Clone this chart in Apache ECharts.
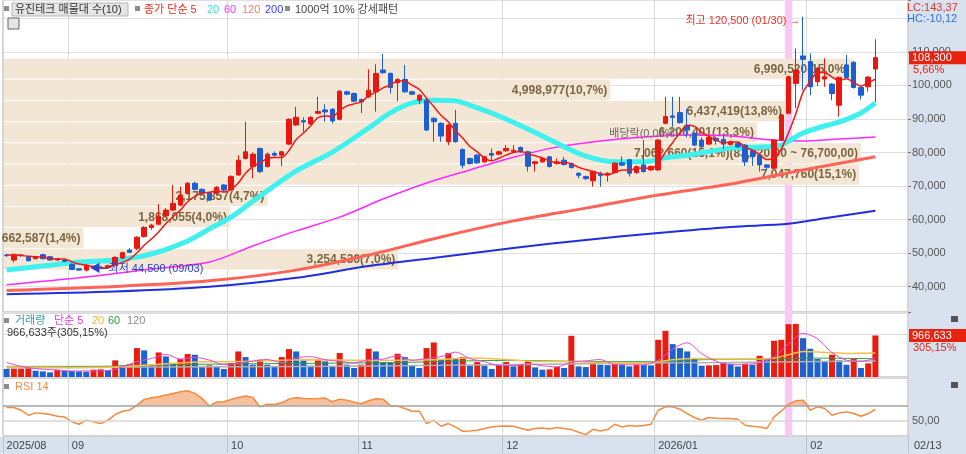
<!DOCTYPE html>
<html><head><meta charset="utf-8">
<script src="https://cdn.jsdelivr.net/npm/echarts/dist/echarts.min.js"></script>
<style>html,body{margin:0;padding:0;background:#fff}#c{width:966px;height:454px}</style>
</head><body><div id="c"></div>
<script>
// ---------- DATA ----------
const dates = ['08/19','08/20','08/21','08/22','08/25','08/26','08/27','08/28','08/29',
'09/01','09/02','09/03','09/04','09/05','09/08','09/09','09/10','09/11','09/12','09/15','09/16','09/17','09/18','09/19','09/22','09/23','09/24','09/25','09/26','09/29','09/30',
'10/01','10/02','10/10','10/13','10/14','10/15','10/16','10/17','10/20','10/21','10/22','10/23','10/24','10/27','10/28','10/29','10/30','10/31',
'11/03','11/04','11/05','11/06','11/07','11/10','11/11','11/12','11/13','11/14','11/17','11/18','11/19','11/20','11/21','11/24','11/25','11/26','11/27','11/28',
'12/01','12/02','12/03','12/04','12/05','12/08','12/09','12/10','12/11','12/12','12/15','12/16','12/17','12/18','12/19','12/22','12/23','12/24','12/26','12/29','12/30',
'01/02','01/05','01/06','01/07','01/08','01/09','01/12','01/13','01/14','01/15','01/16','01/19','01/20','01/21','01/22','01/23','01/26','01/27','01/28','01/29','01/30',
'02/02','02/03','02/04','02/05','02/06','02/09','02/10','02/11','02/12','02/13'];
const tickIdx = [0, 9, 31, 49, 69, 90, 111];
const tickText = ['2025/08', '09', '10', '11', '12', '2026/01', '02'];
const lastDateText = '02/13';

const open = [49400,47900,49400,48900,48300,49500,48900,47900,47900,46600,
45300,44900,45800,45800,45700,46300,48500,50900,51400,54900,
57600,58600,61100,62800,64300,67800,70800,69000,67800,67800,
70300,68800,73300,78200,75800,81200,75800,79700,79200,82500,
88200,89500,88500,91700,92700,92900,89900,98100,97600,95800,
96600,98100,104600,103600,100800,101800,98100,95600,95600,90200,
88700,83200,88700,80900,78200,79200,77200,79700,79500,80500,
80200,81500,80200,76700,77200,78700,76700,77700,76700,73800,
72800,71600,73600,73300,74000,76900,77800,74000,76300,74800,
74800,88700,90900,91900,88000,85700,83700,82500,84200,83900,
82400,82700,82200,80500,79200,76300,75300,83700,91700,100600,
108800,107100,101100,101900,100400,94100,106100,106900,99400,99600,
104900];
const close = [49200,49600,49200,47700,48900,48300,47900,48300,47500,45100,
44900,46300,45600,45600,46200,48700,50100,50200,54700,57600,
58300,60800,62800,64800,67300,70800,69000,67800,65800,69600,
68800,72800,77700,80200,79500,74300,79500,79200,80200,89900,
90500,89100,90500,92200,92100,89400,98300,97400,95300,95100,
98600,103600,103800,99400,101800,98100,97400,97100,86700,89200,
84900,88200,83200,76200,76700,76900,78700,79200,80200,81200,
80700,80200,75900,77200,78200,75800,77200,76400,75500,73200,
72200,74300,73100,73800,76800,76200,73800,75800,74300,75800,
83700,90700,90500,88900,86700,82200,81700,84500,83500,82500,
83200,81700,77200,78700,76300,75600,83700,91200,102600,104600,
107800,99600,105100,102600,97600,102400,102400,99400,97100,102500,
108300];
const low = [48900,47200,48900,47500,48100,48100,47700,47700,47300,44900,
44700,44500,45200,45300,45500,46100,48300,50000,50900,54600,
56900,58300,60800,62500,64000,67500,68700,67500,65500,67500,
68500,68500,73000,77900,72300,73800,75500,78800,75900,82200,
87900,86200,88200,91400,89200,88700,89600,97100,95000,91700,
96300,92200,103500,97600,95300,97800,97100,94400,86400,83200,
83200,82200,82900,75200,76400,76600,76900,77800,79200,80200,
79900,79900,74300,74300,76900,75500,76400,76100,75200,72300,
71800,69800,69800,71300,73700,75900,72800,73700,74000,74500,
74500,88400,87700,88600,84500,81900,81200,82200,82300,81000,
82000,81400,76000,76000,74300,74800,75000,83400,91400,93200,
98600,97100,99800,99600,95600,90700,102100,99100,95800,98200,
95100];
const high = [49800,49800,49700,49200,49100,49800,49100,48500,48100,46900,
45500,46500,46300,46200,46500,49000,50400,51400,55000,58000,
58700,64600,63400,70300,69800,71200,71300,69300,68100,70000,
70600,73200,79200,89200,80000,81500,80000,80300,80500,90200,
93600,90500,90800,96600,94400,93200,98600,98500,97900,96100,
104800,106300,109400,103900,102100,106100,98400,97400,96000,90500,
89000,88500,92700,81200,78500,79500,79000,81200,80500,82200,
82200,81800,80500,77500,78500,79000,78200,78700,77000,74100,
73100,74600,74300,74100,77100,78800,78100,76100,83700,76100,
84000,96600,96600,96600,93000,86000,84500,84800,84700,85200,
83500,83000,82500,80800,79500,76500,84000,91500,103000,111000,
120500,109500,105500,108100,100700,102700,109100,107300,99700,102800,
113800];

const ma5 = [49400,49400,49300,49000,48900,48700,48400,48200,48200,47400,
46700,46400,45900,45500,45700,46500,47200,48200,50000,52300,
54200,56300,58800,60900,62800,65300,66900,67900,68100,68600,
68200,69000,70900,73800,75800,76900,78200,78500,78500,80600,
83900,85800,88000,90400,90900,90700,92500,93900,94500,95100,
96900,98000,99300,100100,101400,101300,100100,98800,96200,93700,
91100,89200,86400,84300,81800,80200,78300,77500,78300,79200,
80000,80300,79600,79000,78400,77500,76900,77000,76600,75600,
74900,74300,73700,73300,74000,74800,74700,75300,75400,75200,
76700,80100,83000,85900,88100,87800,86000,84800,83700,82900,
83100,83100,81600,80700,79400,77900,78300,81100,85900,91500,
98000,101200,103900,103900,102500,101500,102000,100900,99800,100800,
101900];
const ma20Idx = [0,5,10,15,20,25,28,31,35,40,45,50,53,56,59,62,65,68,72,76,80,84,88,91,95,100,104,107,108,110,112,115,118,120];
const ma20Val = [44900,46100,47300,47900,49700,53600,57200,60700,67000,74500,80100,87300,91800,94800,95600,95400,93300,90900,87000,82800,78900,77200,77200,78400,79500,81300,81600,82200,83400,85800,87300,89100,91800,94800];
const ma60Idx = [0,10,20,28,34,40,46,52,58,64,70,76,82,88,94,100,106,110,115,120];
const ma60Val = [40500,42600,45200,47300,52100,56600,60700,66100,70900,74800,78600,81600,83400,84600,85200,84900,83700,83400,84000,84600];
const ma120Idx = [0,15,28,40,50,60,70,80,90,100,110,120];
const ma120Val = [38800,40000,41700,44900,49400,54800,59600,63400,67300,70600,74800,78700];
const ma200Idx = [0,15,28,40,50,60,70,80,90,100,108,113,120];
const ma200Val = [37700,38500,39900,42600,46100,48800,51500,53900,56000,57800,58700,60400,62600];

const volume = [186000,193000,193000,232000,147000,131000,108000,170000,147000,139000,
131000,124000,170000,178000,155000,387000,271000,302000,673000,619000,
286000,572000,479000,325000,418000,534000,518000,232000,271000,232000,
186000,325000,595000,464000,286000,402000,286000,232000,464000,650000,
595000,387000,263000,402000,363000,247000,557000,286000,209000,286000,
657000,595000,340000,333000,541000,464000,263000,209000,673000,804000,
418000,557000,441000,464000,263000,348000,263000,186000,286000,348000,
247000,286000,379000,224000,170000,178000,232000,209000,959000,247000,
232000,309000,286000,278000,325000,286000,247000,286000,278000,271000,
866000,1075000,766000,673000,595000,425000,263000,271000,278000,340000,
309000,247000,309000,286000,495000,418000,843000,866000,1230000,1237000,
905000,657000,418000,348000,518000,387000,286000,418000,209000,316773,
966633];
const vma5Idx = [0,2,4,6,9,12,14,16,18,20,22,24,26,28,30,32,34,36,38,40,42,44,46,48,50,52,54,56,58,60,62,64,66,68,70,72,74,76,78,80,82,84,86,88,90,92,94,96,98,100,102,104,106,108,110,112,114,116,118,120];
const vma5Val = [340000,247000,195000,170000,140000,142000,152000,232000,358000,430000,526000,416000,455000,395000,288000,322000,371000,407000,334000,445000,472000,402000,366000,332000,399000,417000,493000,388000,430000,473000,579000,429000,356000,269000,266000,309000,261000,237000,350000,376000,407000,286000,284000,284000,390000,651000,795000,544000,366000,292000,297000,329000,470000,770000,1016000,889000,569000,391000,364000,439000];
const vma20Idx = [0,10,15,20,25,30,35,41,50,59,64,68,73,78,83,88,92,95,100,104,106,108,110,112,116,120];
const vma20Val = [232000,224000,232000,286000,340000,356000,371000,402000,387000,402000,441000,418000,363000,363000,325000,325000,402000,433000,418000,418000,441000,518000,595000,580000,549000,557000];
const vma60Idx = [0,12,20,30,41,55,69,83,90,96,105,110,120];
const vma60Val = [247000,247000,278000,302000,317000,340000,387000,356000,356000,402000,418000,441000,425000];
const vma120Idx = [0,20,41,60,83,100,120];
const vma120Val = [209000,232000,247000,271000,317000,340000,371000];

const rsi = [67.3,67.3,63.8,57.2,60.3,59.4,58.1,55.9,55.0,48.5,
45.4,50.7,48.5,46.3,50.7,58.1,62.5,63.8,70.4,77.9,
80.1,81.4,83.6,85.8,88.0,89.3,85.8,79.2,69.1,74.4,
74.8,77.9,80.5,82.3,80.5,68.2,71.7,71.3,73.5,78.3,
80.5,79.2,78.8,79.2,79.7,74.8,78.3,77.0,74.4,72.2,
76.1,78.8,78.3,70.0,69.1,66.0,62.5,62.5,46.3,50.7,
42.8,46.3,41.9,36.2,36.6,37.5,39.7,41.9,42.8,43.2,
42.8,40.1,37.5,39.7,40.6,39.3,41.0,39.7,38.4,34.9,
31.8,38.8,36.6,38.4,45.4,41.9,43.7,42.8,43.7,45.4,
63.8,68.2,68.2,65.1,59.4,54.2,50.7,54.2,53.3,52.9,
52.9,52.0,44.1,42.8,41.9,39.7,55.0,62.5,71.7,76.1,
77.0,63.8,68.2,66.0,57.2,60.3,61.6,59.4,55.9,59.4,
64.7];

// price-by-volume profile (10 bins, bottom to top)
const profileFrom = [45100,51420,57740,64060,70380,76700,83020,89340,95660,101980];
const profileTo   = [51420,57740,64060,70380,76700,83020,89340,95660,101980,108300];
const profileVol  = [3254536,662587,1868055,2175857,7047760,7062660,6206401,6437419,4998977,6990520];

const highlightDates = ['01/28'];
const highDate = '01/30', lowDate = '09/03';
const exDivDate = '12/29', exDivText = '배당락(0,06%)';

// ---------- BUILD ----------
const FONT = '"Liberation Sans","Noto Sans CJK KR",sans-serif';
const UP = '#e8170f', DOWN = '#1b5fd2';
const fmt = v => Math.round(v).toString().replace(/\B(?=(\d{3})+(?!\d))/g, ',');
const dec = (v, n) => v.toFixed(n).replace('.', ',');
const cats = dates.concat(['_p1','_p2','_p3','_p4']);
const tickSet = new Set(tickIdx);
const n = dates.length;
const hiVal = Math.max(...high), loVal = Math.min(...low);
const hiIdx = dates.indexOf(highDate), loIdx = dates.indexOf(lowDate), exIdx = dates.indexOf(exDivDate);
const lastClose = close[n-1], prevClose = close[n-2];
const lastVol = volume[n-1], prevVol = volume[n-2];
const pairs = (ix, vs) => ix.map((x, k) => [x, vs[k]]);
const profTotal = profileVol.reduce((a, b) => a + b, 0);
const profMax = Math.max(...profileVol);
const profLabels = profileVol.map((v, k) => {
  let s = fmt(v) + '(' + dec(v / profTotal * 100, 1) + '%)';
  if (v === profMax) s += '(' + fmt(profileTo[k]) + ',00 ~ ' + fmt(profileFrom[k]) + ',00)';
  return s;
});

const PMIN = 32400, PMAX = 125500;
const G = {left: 3, right: 58};
const catAxis = (gi, extra) => Object.assign({
  type: 'category', gridIndex: gi, data: cats, boundaryGap: true,
  axisLine: {show: false}, axisTick: {show: false}, axisLabel: {show: false},
  splitLine: {show: true, interval: (i) => tickSet.has(i), lineStyle: {color: '#d9d9d9', width: 1}}
}, extra || {});

const lineS = (name, data, color, width, z, xi, yi) => ({
  name, type: 'line', data, xAxisIndex: xi, yAxisIndex: yi, showSymbol: false, symbol: 'none',
  smooth: 0.3, connectNulls: true, silent: true, z,
  lineStyle: {color, width}, itemStyle: {color}
});

const badge = (value, sub) => ({
  silent: true, symbol: 'none', precision: 0,
  lineStyle: {color: 'rgba(255,255,255,0)', width: 0, opacity: 1},
  data: [{yAxis: value, label: {show: true, position: 'end', distance: 1, opacity: 1,
    formatter: '{e|}\n{a|' + fmt(value) + '}\n{b|' + sub + '}',
    rich: {
      e: {height: 12, lineHeight: 12},
      a: {backgroundColor: '#e8220f', color: '#fff', fontSize: 11, fontFamily: FONT, width: 52, height: 13, lineHeight: 13, padding: [0, 2, 0, 3]},
      b: {color: '#e8220f', fontSize: 11, fontFamily: FONT, height: 12, lineHeight: 12, padding: [0, 0, 0, 4]}
    }}}]
});

const chart = echarts.init(document.getElementById('c'));
chart.setOption({
  animation: false,
  backgroundColor: '#ffffff',
  grid: [
    Object.assign({top: 0, height: 312, show: true, borderColor: '#a9a9a9', borderWidth: 1}, G),
    Object.assign({top: 313, height: 64, show: true, borderColor: '#a9a9a9', borderWidth: 1}, G),
    Object.assign({top: 378, height: 58, show: true, borderColor: '#a9a9a9', borderWidth: 1}, G),
    Object.assign({top: 0, height: 312, show: false}, G),
    Object.assign({top: 0, height: 436, show: false}, G)
  ],
  xAxis: [
    catAxis(0),
    catAxis(1),
    catAxis(2, {
      axisTick: {show: true, interval: (i) => tickSet.has(i), length: 17, lineStyle: {color: '#b9c3cf'}},
      axisLabel: {show: true, interval: (i) => tickSet.has(i), align: 'left', margin: 4,
        color: '#444', fontSize: 11, fontFamily: FONT,
        formatter: (v, i) => { const k = tickIdx.indexOf(i); return k >= 0 ? tickText[k] : ''; }}
    }),
    {type: 'value', gridIndex: 3, min: 0, max: 7450000, show: false},
    {type: 'category', gridIndex: 4, data: cats, show: false}
  ],
  yAxis: [
    {type: 'value', gridIndex: 0, position: 'right', min: PMIN, max: PMAX, splitNumber: 9,
      axisLine: {show: false},
      axisTick: {show: true, length: 3, lineStyle: {color: '#777'}},
      axisLabel: {color: '#555', fontSize: 11, fontFamily: FONT, margin: 4,
        formatter: v => (v % 10000 === 0 && v >= 40000 && v <= 110000) ? fmt(v) : ''},
      splitLine: {show: true, lineStyle: {color: '#e0e0e0'}}},
    {type: 'value', gridIndex: 1, position: 'right', min: 0, max: 1490000, interval: 1000000,
      axisLine: {show: false}, axisTick: {show: false}, axisLabel: {show: false},
      splitLine: {show: true, lineStyle: {color: '#dcdcdc'}}},
    {type: 'value', gridIndex: 2, position: 'right', min: 30, max: 106, interval: 10,
      axisLine: {show: false}, axisTick: {show: false},
      axisLabel: {color: '#555', fontSize: 11, fontFamily: FONT, margin: 4,
        formatter: v => v === 50 ? '50,00' : ''},
      splitLine: {show: false}},
    {type: 'value', gridIndex: 3, min: PMIN, max: PMAX, show: false},
    {type: 'value', gridIndex: 4, min: 0, max: 1, show: false}
  ],
  series: [
    { // highlighted day band
      type: 'bar', xAxisIndex: 4, yAxisIndex: 4, barWidth: '100%', silent: true, z: 0,
      data: cats.map(c => highlightDates.includes(c) ? 1 : '-'),
      itemStyle: {color: '#f9c8f4'}
    },
    { // price-by-volume profile
      type: 'custom', xAxisIndex: 3, yAxisIndex: 3, z: 1, silent: true,
      data: profileFrom.map((f, k) => [profileVol[k], f, profileTo[k]]),
      encode: {x: 0, y: [1, 2]},
      renderItem: (params, api) => {
        const vol = api.value(0), lo = api.value(1), hi = api.value(2);
        const p0 = api.coord([0, hi]), p1 = api.coord([vol, lo]);
        return {type: 'group', children: [
          {type: 'rect', shape: {x: p0[0] + 1, y: p0[1] + 1, width: p1[0] - p0[0] - 1, height: p1[1] - p0[1] - 1},
            style: {fill: '#f4e6d4'}},
          {type: 'text', style: {text: profLabels[params.dataIndex], x: p1[0] - 3, y: (p0[1] + p1[1]) / 2 + 1,
            align: 'right', verticalAlign: 'middle', fill: '#7a6742', font: 'bold 12px ' + FONT}}
        ]};
      }
    },
    lineS('MA200', pairs(ma200Idx, ma200Val), '#1f2fdc', 2, 2, 0, 0),
    lineS('MA120', pairs(ma120Idx, ma120Val), '#ff6458', 3, 2, 0, 0),
    lineS('MA60', pairs(ma60Idx, ma60Val), '#ff28ff', 1.5, 2, 0, 0),
    lineS('MA20', pairs(ma20Idx, ma20Val), '#3ef0ee', 5, 2, 0, 0),
    {
      type: 'candlestick', xAxisIndex: 0, yAxisIndex: 0, z: 3, barWidth: 5, clip: false,
      data: dates.map((d, i) => [open[i], close[i], low[i], high[i]]),
      itemStyle: {color: UP, color0: DOWN, borderColor: UP, borderColor0: DOWN, borderWidth: 1},
      markPoint: {
        silent: true, symbol: 'circle', symbolSize: 1, itemStyle: {color: 'rgba(0,0,0,0)'},
        data: [
          {coord: [hiIdx, hiVal], label: {show: true, position: 'left', distance: 2, offset: [0, 4],
            formatter: '최고 ' + fmt(hiVal) + ' (' + highDate + ') →', color: '#e8342b', fontSize: 11, fontFamily: FONT}},
          {coord: [loIdx, loVal], label: {show: true, position: 'right', distance: 3, offset: [0, -2],
            formatter: '◀─최저 ' + fmt(loVal) + ' (' + lowDate + ')', color: '#2742c9', fontSize: 11, fontFamily: FONT}},
          {coord: [exIdx, high[exIdx]], label: {show: true, position: 'top', distance: 0,
            formatter: exDivText, color: '#666', fontSize: 11, fontFamily: FONT}}
        ]
      },
      markLine: badge(lastClose, dec((lastClose / prevClose - 1) * 100, 2) + '%')
    },
    lineS('MA5', ma5.map((v, i) => [i, v]), '#ee1a1a', 1.5, 4, 0, 0),
    { // volume
      type: 'bar', xAxisIndex: 1, yAxisIndex: 1, barWidth: 6, z: 2, clip: false,
      data: volume.map((v, i) => ({value: v, itemStyle: {color: (i > 0 && v >= volume[i-1]) ? '#e91c10' : '#1b61cf'}})),
      markLine: badge(lastVol, dec(lastVol / prevVol * 100, 2) + '%')
    },
    lineS('VMA120', pairs(vma120Idx, vma120Val), '#b0b0b0', 1.5, 4, 1, 1),
    lineS('VMA60', pairs(vma60Idx, vma60Val), '#2e9c46', 1, 4, 1, 1),
    lineS('VMA20', pairs(vma20Idx, vma20Val), '#f5c04a', 1.5, 4, 1, 1),
    lineS('VMA5', pairs(vma5Idx, vma5Val), '#e447dc', 1, 5, 1, 1),
    { type: 'line', xAxisIndex: 2, yAxisIndex: 2, stack: 'rsi', silent: true, symbol: 'none', z: 2,
      data: rsi.map(() => 70), lineStyle: {opacity: 0} },
    { type: 'line', xAxisIndex: 2, yAxisIndex: 2, stack: 'rsi', silent: true, symbol: 'none', z: 2,
      data: rsi.map(v => Math.max(v - 70, 0)), lineStyle: {opacity: 0},
      areaStyle: {color: '#f6c09c', opacity: 1} },
    { type: 'line', xAxisIndex: 2, yAxisIndex: 2, silent: true, symbol: 'none', z: 4,
      data: rsi, lineStyle: {color: '#f28a3f', width: 1.5},
      markLine: {silent: true, symbol: 'none', label: {show: false},
        data: [{yAxis: 50, lineStyle: {color: '#d6d6d6', width: 1.5, type: 'solid'}},
               {yAxis: 70, lineStyle: {color: '#a3a3a3', width: 1.5, type: 'solid'}}]} }
  ],
  graphic: {elements: [
    {type: 'rect', z: -10, silent: true, shape: {x: 908, y: 0, width: 58, height: 437}, style: {fill: '#d7e2ee'}},
    {type: 'rect', z: -10, silent: true, shape: {x: 0, y: 437, width: 966, height: 17}, style: {fill: '#d7e2ee'}},
    {type: 'rect', z: 50, shape: {x: 4, y: 6, width: 5, height: 5}, style: {fill: '#8c8c8c'}},
    {type: 'rect', z: 50, shape: {x: 12, y: 3, width: 116, height: 13}, style: {fill: '#e5e5e5', stroke: '#b5b5b5', lineWidth: 1}},
    {type: 'text', z: 51, style: {x: 15, y: 10, text: '유진테크 매물대 수(10)', fill: '#333', font: '11px ' + FONT, verticalAlign: 'middle'}},
    {type: 'rect', z: 50, shape: {x: 135, y: 6, width: 5, height: 5}, style: {fill: '#8c8c8c'}},
    {type: 'text', z: 51, style: {x: 144, y: 10, text: '종가 단순 5', fill: '#f0281e', font: '11px ' + FONT, verticalAlign: 'middle'}},
    {type: 'text', z: 51, style: {x: 207, y: 10, text: '20', fill: '#34e2e2', font: '11px ' + FONT, verticalAlign: 'middle'}},
    {type: 'text', z: 51, style: {x: 224, y: 10, text: '60', fill: '#ff33ff', font: '11px ' + FONT, verticalAlign: 'middle'}},
    {type: 'text', z: 51, style: {x: 242, y: 10, text: '120', fill: '#ff7a7a', font: '11px ' + FONT, verticalAlign: 'middle'}},
    {type: 'text', z: 51, style: {x: 265, y: 10, text: '200', fill: '#3a3af0', font: '11px ' + FONT, verticalAlign: 'middle'}},
    {type: 'rect', z: 50, shape: {x: 285, y: 6, width: 5, height: 5}, style: {fill: '#8c8c8c'}},
    {type: 'text', z: 51, style: {x: 295, y: 10, text: '1000억 10% 강세패턴', fill: '#444', font: '11px ' + FONT, verticalAlign: 'middle'}},
    {type: 'rect', z: 50, shape: {x: 8, y: 18, width: 11, height: 11}, style: {fill: '#e6e6e6', stroke: '#666', lineWidth: 1}},
    {type: 'text', z: 51, style: {x: 907, y: 8, text: 'LC:' + dec((lastClose / loVal - 1) * 100, 2), fill: '#e0362c', font: '11px ' + FONT, verticalAlign: 'middle'}},
    {type: 'text', z: 51, style: {x: 907, y: 19, text: 'HC:' + dec((lastClose / hiVal - 1) * 100, 2), fill: '#2d6fd4', font: '11px ' + FONT, verticalAlign: 'middle'}},
    {type: 'rect', z: 50, shape: {x: 4, y: 318, width: 5, height: 5}, style: {fill: '#8c8c8c'}},
    {type: 'text', z: 51, style: {x: 15, y: 321, text: '거래량', fill: '#3a9a9c', font: '11px ' + FONT, verticalAlign: 'middle'}},
    {type: 'text', z: 51, style: {x: 54, y: 321, text: '단순 5', fill: '#e040d8', font: '11px ' + FONT, verticalAlign: 'middle'}},
    {type: 'text', z: 51, style: {x: 92, y: 321, text: '20', fill: '#f2b43a', font: '11px ' + FONT, verticalAlign: 'middle'}},
    {type: 'text', z: 51, style: {x: 108, y: 321, text: '60', fill: '#2e9c46', font: '11px ' + FONT, verticalAlign: 'middle'}},
    {type: 'text', z: 51, style: {x: 127, y: 321, text: '120', fill: '#8a8a8a', font: '11px ' + FONT, verticalAlign: 'middle'}},
    {type: 'text', z: 51, style: {x: 7, y: 333, text: fmt(lastVol) + '주(' + dec(lastVol / prevVol * 100, 2) + '%)', fill: '#333', font: '11px ' + FONT, verticalAlign: 'middle'}},
    {type: 'rect', z: 50, shape: {x: 4, y: 384, width: 5, height: 5}, style: {fill: '#8c8c8c'}},
    {type: 'text', z: 51, style: {x: 15, y: 387, text: 'RSI 14', fill: '#f28a3f', font: '11px ' + FONT, verticalAlign: 'middle'}},
    {type: 'rect', z: 50, shape: {x: 951, y: 316, width: 7, height: 6}, style: {fill: '#555'}},
    {type: 'rect', z: 50, shape: {x: 951, y: 382, width: 7, height: 6}, style: {fill: '#555'}},
    {type: 'text', z: 51, style: {x: 914, y: 446, text: lastDateText, fill: '#444', font: '11px ' + FONT, verticalAlign: 'middle'}}
  ]}
});
</script></body></html>
